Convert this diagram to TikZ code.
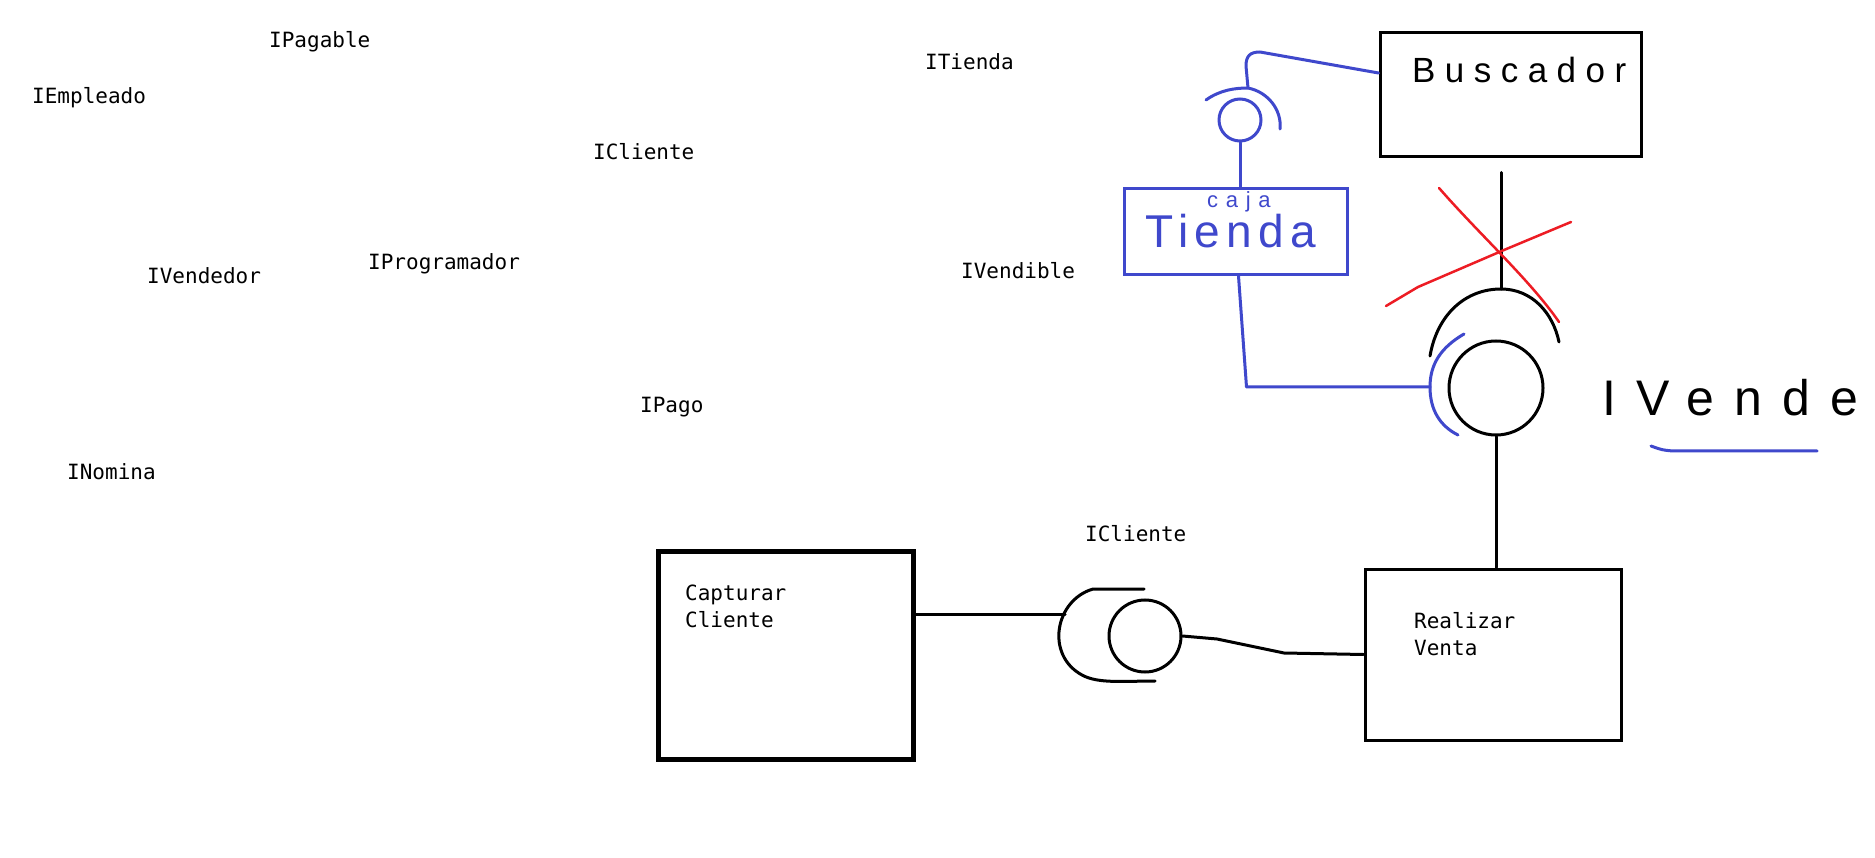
\documentclass[tikz,border=0pt]{standalone}
\usepackage{fontspec}
\usepackage{xcolor}
\usepackage{tikz}
\newfontfamily\monofont{DejaVu Sans Mono}
\newfontfamily\handfont{Liberation Sans}
\definecolor{penblue}{RGB}{63,72,204}
\definecolor{penred}{RGB}{237,28,36}

\begin{document}
\begin{tikzpicture}[x=1pt,y=-1pt,
    wire/.style={line width=3pt, line cap=round, line join=round},
    bwire/.style={wire, draw=penblue},
    redline/.style={wire, line width=2.5pt, draw=penred},
    box/.style={draw, rectangle, line width=3pt, inner sep=0pt},
    ball/.style={draw, circle, line width=3pt, inner sep=0pt},
    iface/.style={font=\monofont\fontsize{21}{27}\selectfont, anchor=base west, inner sep=0pt},
    hand/.style={anchor=base west, inner sep=0pt}]

    \fill[white] (0, 0) rectangle (1875, 858);
    \useasboundingbox (0, 0) rectangle (1875, 858);

    \node[iface] (ipagable)     at ( 269,  48) {IPagable};
    \node[iface] (iempleado)    at (  32, 104) {IEmpleado};
    \node[iface] (iclientetop)  at ( 593, 160) {ICliente};
    \node[iface] (ivendedor)    at ( 147, 284) {IVendedor};
    \node[iface] (iprogramador) at ( 368, 270) {IProgramador};
    \node[iface] (ipago)        at ( 640, 413) {IPago};
    \node[iface] (inomina)      at (  67, 480) {INomina};
    \node[iface] (itienda)      at ( 925,  70) {ITienda};
    \node[iface] (ivendible)    at ( 961, 279) {IVendible};
    \node[iface] (icliente)     at (1085, 541) {ICliente};

    \node[box, line width=5pt, minimum width=255pt, minimum height=208pt] (capturar) at (785.5, 655) {};
    \node[box, minimum width=256pt, minimum height=171pt] (realizar) at (1493, 654.5) {};
    \node[box, minimum width=261pt, minimum height=124pt] (buscador) at (1510.5, 95) {};
    \node[box, draw=penblue, minimum width=223pt, minimum height=86pt] (tienda) at (1235.5, 231.5) {};

    \node[iface, anchor=north west, align=left] (capturartxt) at ( 685, 585) {Capturar\\Cliente};
    \node[iface, anchor=north west, align=left] (realizartxt) at (1414, 612) {Realizar\\Venta};

    \node[hand, font={\handfont\fontsize{35}{35}\selectfont\addfontfeature{LetterSpace=27}}] (buscadortxt) at (1412, 83) {Buscador};
    \node[hand, text=penblue, font={\handfont\fontsize{46}{46}\selectfont\addfontfeature{LetterSpace=14}}] (tiendatxt) at (1145, 248) {Tienda};
    \node[hand, text=penblue, font={\handfont\fontsize{22}{22}\selectfont\addfontfeature{LetterSpace=35}}] (cajatxt) at (1207, 208) {caja};
    \node[hand, font={\handfont\fontsize{50}{50}\selectfont\addfontfeature{LetterSpace=40}}] (ivende) at (1602, 416) {IVende};

    \node[ball, minimum size=72pt] (clball) at (1145, 636) {};
    \node[ball, minimum size=94pt] (vball)  at (1496, 388) {};
    \node[ball, draw=penblue, minimum size=42pt] (tball) at (1240, 120) {};

    \coordinate (clsock) at (1065, 614);
    \coordinate (vsock)  at (1501, 289);
    \coordinate (vsockl) at (1430, 387);
    \coordinate (tsock)  at (1248,  88);

    \draw[wire] (1144, 589) -- (1093, 589) .. controls (1055, 600) and (1045, 655) .. (1082, 675) .. controls (1098, 684) and (1125, 681) .. (1155, 681);
    \draw[wire] (capturar.east |- clsock) -- (clsock);
    \draw[wire] (clball.east) -- (1217, 639) -- (1284, 653) -- (realizar.west);

    \draw[wire] (vball.south) -- (vball.south |- realizar.north);
    \draw[wire] (1430, 356) .. controls (1437, 315) and (1465, 289) .. (vsock) .. controls (1532, 289) and (1553, 313) .. (1559, 342);
    \draw[wire, shorten >=14pt] (vsock) -- (vsock |- buscador.south);

    \draw[bwire] (1464, 334) .. controls (1440, 348) and (1430, 365) .. (vsockl) .. controls (1430, 410) and (1440, 426) .. (1458, 435);
    \draw[bwire] ([xshift=3pt]tienda.south) -- ([xshift=11pt]tienda.south |- vsockl) -- (vsockl);
    \draw[bwire] (tball.south) -- (tball.south |- tienda.north);
    \draw[bwire] (1206, 100) .. controls (1220, 90) and (1235, 88) .. (tsock) .. controls (1268, 92) and (1282, 110) .. (1280, 129);
    \draw[bwire] (tsock) -- (1246, 66) .. controls (1246, 56) and (1250, 52) .. (1260, 52) -- ([yshift=22pt]buscador.west);
    \draw[bwire] (1651, 446) .. controls (1662, 450) .. (1673, 451) -- (1817, 451);

    \draw[redline] (1439, 188) .. controls (1480, 235) and (1530, 280) .. (1559, 322);
    \draw[redline] (1386, 306) -- (1418, 287) -- (1504, 250) -- (1571, 222);
\end{tikzpicture}
\end{document}
